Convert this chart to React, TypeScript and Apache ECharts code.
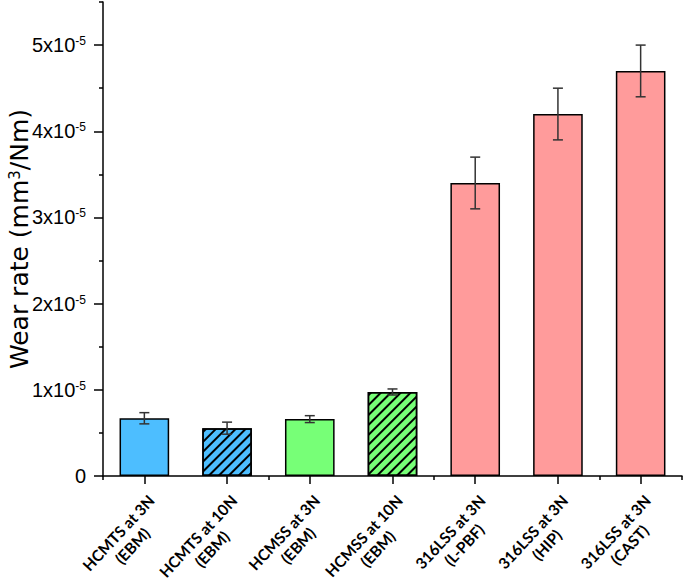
import React, { useEffect, useRef } from "react";
import * as echarts from "echarts";

const categories = [
  "HCMTS at 3N\n(EBM)",
  "HCMTS at 10N\n(EBM)",
  "HCMSS at 3N\n(EBM)",
  "HCMSS at 10N\n(EBM)",
  "316LSS at 3N\n(L-PBF)",
  "316LSS at 3N\n(HIP)",
  "316LSS at 3N\n(CAST)",
];
const wearRate = [0.67e-5, 0.555e-5, 0.66e-5, 0.975e-5, 3.4e-5, 4.2e-5, 4.7e-5];
const wearError = [0.065e-5, 0.07e-5, 0.04e-5, 0.035e-5, 0.3e-5, 0.3e-5, 0.3e-5];
const barColors = ["#4dbeff", "#4dbeff", "#77ff77", "#77ff77", "#ff9b9b", "#ff9b9b", "#ff9b9b"];
const hatched = [false, true, false, true, false, false, false];
const majorTicks = [0, 1e-5, 2e-5, 3e-5, 4e-5, 5e-5];
const minorTicks = [0.5e-5, 1.5e-5, 2.5e-5, 3.5e-5, 4.5e-5, 5.5e-5];

export default function App() {
  const ref = useRef<HTMLDivElement>(null);
  useEffect(() => {
    if (!ref.current) return;
    const chart = echarts.init(ref.current, null, { renderer: "svg" });
    const hatch = {
      symbol: "rect",
      symbolSize: 1,
      color: "#000",
      backgroundColor: null,
      dashArrayX: [1, 0],
      dashArrayY: [1.2, 4.3],
      rotation: -Math.PI / 4,
    };
    const yMax = 5.5e-5;
    chart.setOption({
      animation: false,
      grid: { left: 103, right: 3, top: 2, bottom: 107, containLabel: false, outerBoundsMode: "none" },
      xAxis: [
        {
          type: "category",
          data: categories,
          axisLine: { show: true, lineStyle: { color: "#000", width: 1.5 } },
          axisTick: { show: true, alignWithLabel: true, length: 8, lineStyle: { color: "#000", width: 1.5 } },
          axisLabel: {
            interval: 0,
            rotate: 47,
            margin: 15,
            align: "right",
            verticalAlign: "top",
            color: "#000",
            formatter: (v: string) =>
              v
                .split("\n")
                .map((l) => `{c|${l}}`)
                .join("\n"),
            rich: {
              c: {
                align: "center",
                fontWeight: "bold",
                fontSize: 15.5,
                fontFamily: "Lato",
                lineHeight: 19,
                color: "#000",
              },
            },
          },
        },
        {
          type: "category",
          data: categories,
          position: "bottom",
          axisLine: { show: false },
          axisTick: { show: true, length: 4, lineStyle: { color: "#000", width: 1.5 } },
          axisLabel: { show: false },
        },
      ],
      yAxis: [
        {
          type: "value",
          min: 0,
          max: yMax,
          interval: 1e-5,
          splitLine: { show: false },
          axisLine: { show: true, lineStyle: { color: "#000", width: 1.5 } },
          axisTick: { show: true, length: 9, customValues: majorTicks, lineStyle: { color: "#000", width: 1.5 } },
          axisLabel: {
            customValues: majorTicks,
            margin: 17,
            color: "#000",
            fontSize: 20,
            fontFamily: "Liberation Sans",
            formatter: (v: number) => {
              const n = Math.round(v / 1e-5);
              return n === 0 ? "0" : `{m|${n}x10}{s|-5}`;
            },
            rich: {
              m: { fontSize: 20, fontFamily: "Liberation Sans", color: "#000" },
              s: { fontSize: 12, fontFamily: "Liberation Sans", color: "#000", verticalAlign: "top", padding: [0, 0, 7, 0] },
            },
          },
          name: "Wear rate (mm{s|3}/Nm)",
          nameLocation: "middle",
          nameGap: 71,
          nameMoveOverlap: false,
          nameTextStyle: {
            fontSize: 25,
            fontFamily: "DejaVu Sans",
            color: "#000",
            rich: {
              s: { fontSize: 15, fontFamily: "DejaVu Sans", color: "#000", verticalAlign: "top", padding: [0, 0, 8, 0] },
            },
          },
        },
        {
          type: "value",
          min: 0,
          max: yMax,
          interval: 1e-5,
          position: "left",
          splitLine: { show: false },
          axisLine: { show: false },
          axisTick: { show: true, length: 4, customValues: minorTicks, lineStyle: { color: "#000", width: 1.5 } },
          axisLabel: { show: false },
        },
      ],
      series: [
        {
          type: "bar",
          barWidth: "60%",
          data: wearRate.map((v, i) => ({
            value: v,
            itemStyle: {
              color: barColors[i],
              borderColor: "#000",
              borderWidth: 1.5,
              decal: hatched[i] ? hatch : undefined,
            },
          })),
        },
        {
          type: "custom",
          z: 10,
          data: wearRate.map((v, i) => [i, v, wearError[i]]),
          renderItem: (params: any, api: any) => {
            const i = api.value(0);
            const v = api.value(1);
            const e = api.value(2);
            const top = api.coord([i, v + e]);
            const bot = api.coord([i, v - e]);
            const w = 5;
            const style = { stroke: "#333", lineWidth: 1.5 };
            return {
              type: "group",
              children: [
                { type: "line", shape: { x1: top[0], y1: top[1], x2: bot[0], y2: bot[1] }, style },
                { type: "line", shape: { x1: top[0] - w, y1: top[1], x2: top[0] + w, y2: top[1] }, style },
                { type: "line", shape: { x1: bot[0] - w, y1: bot[1], x2: bot[0] + w, y2: bot[1] }, style },
              ],
            };
          },
        },
      ],
    });
    return () => chart.dispose();
  }, []);
  return <div ref={ref} style={{ width: 685, height: 583, position: "absolute", left: 0, top: 0, background: "#fff" }} />;
}
